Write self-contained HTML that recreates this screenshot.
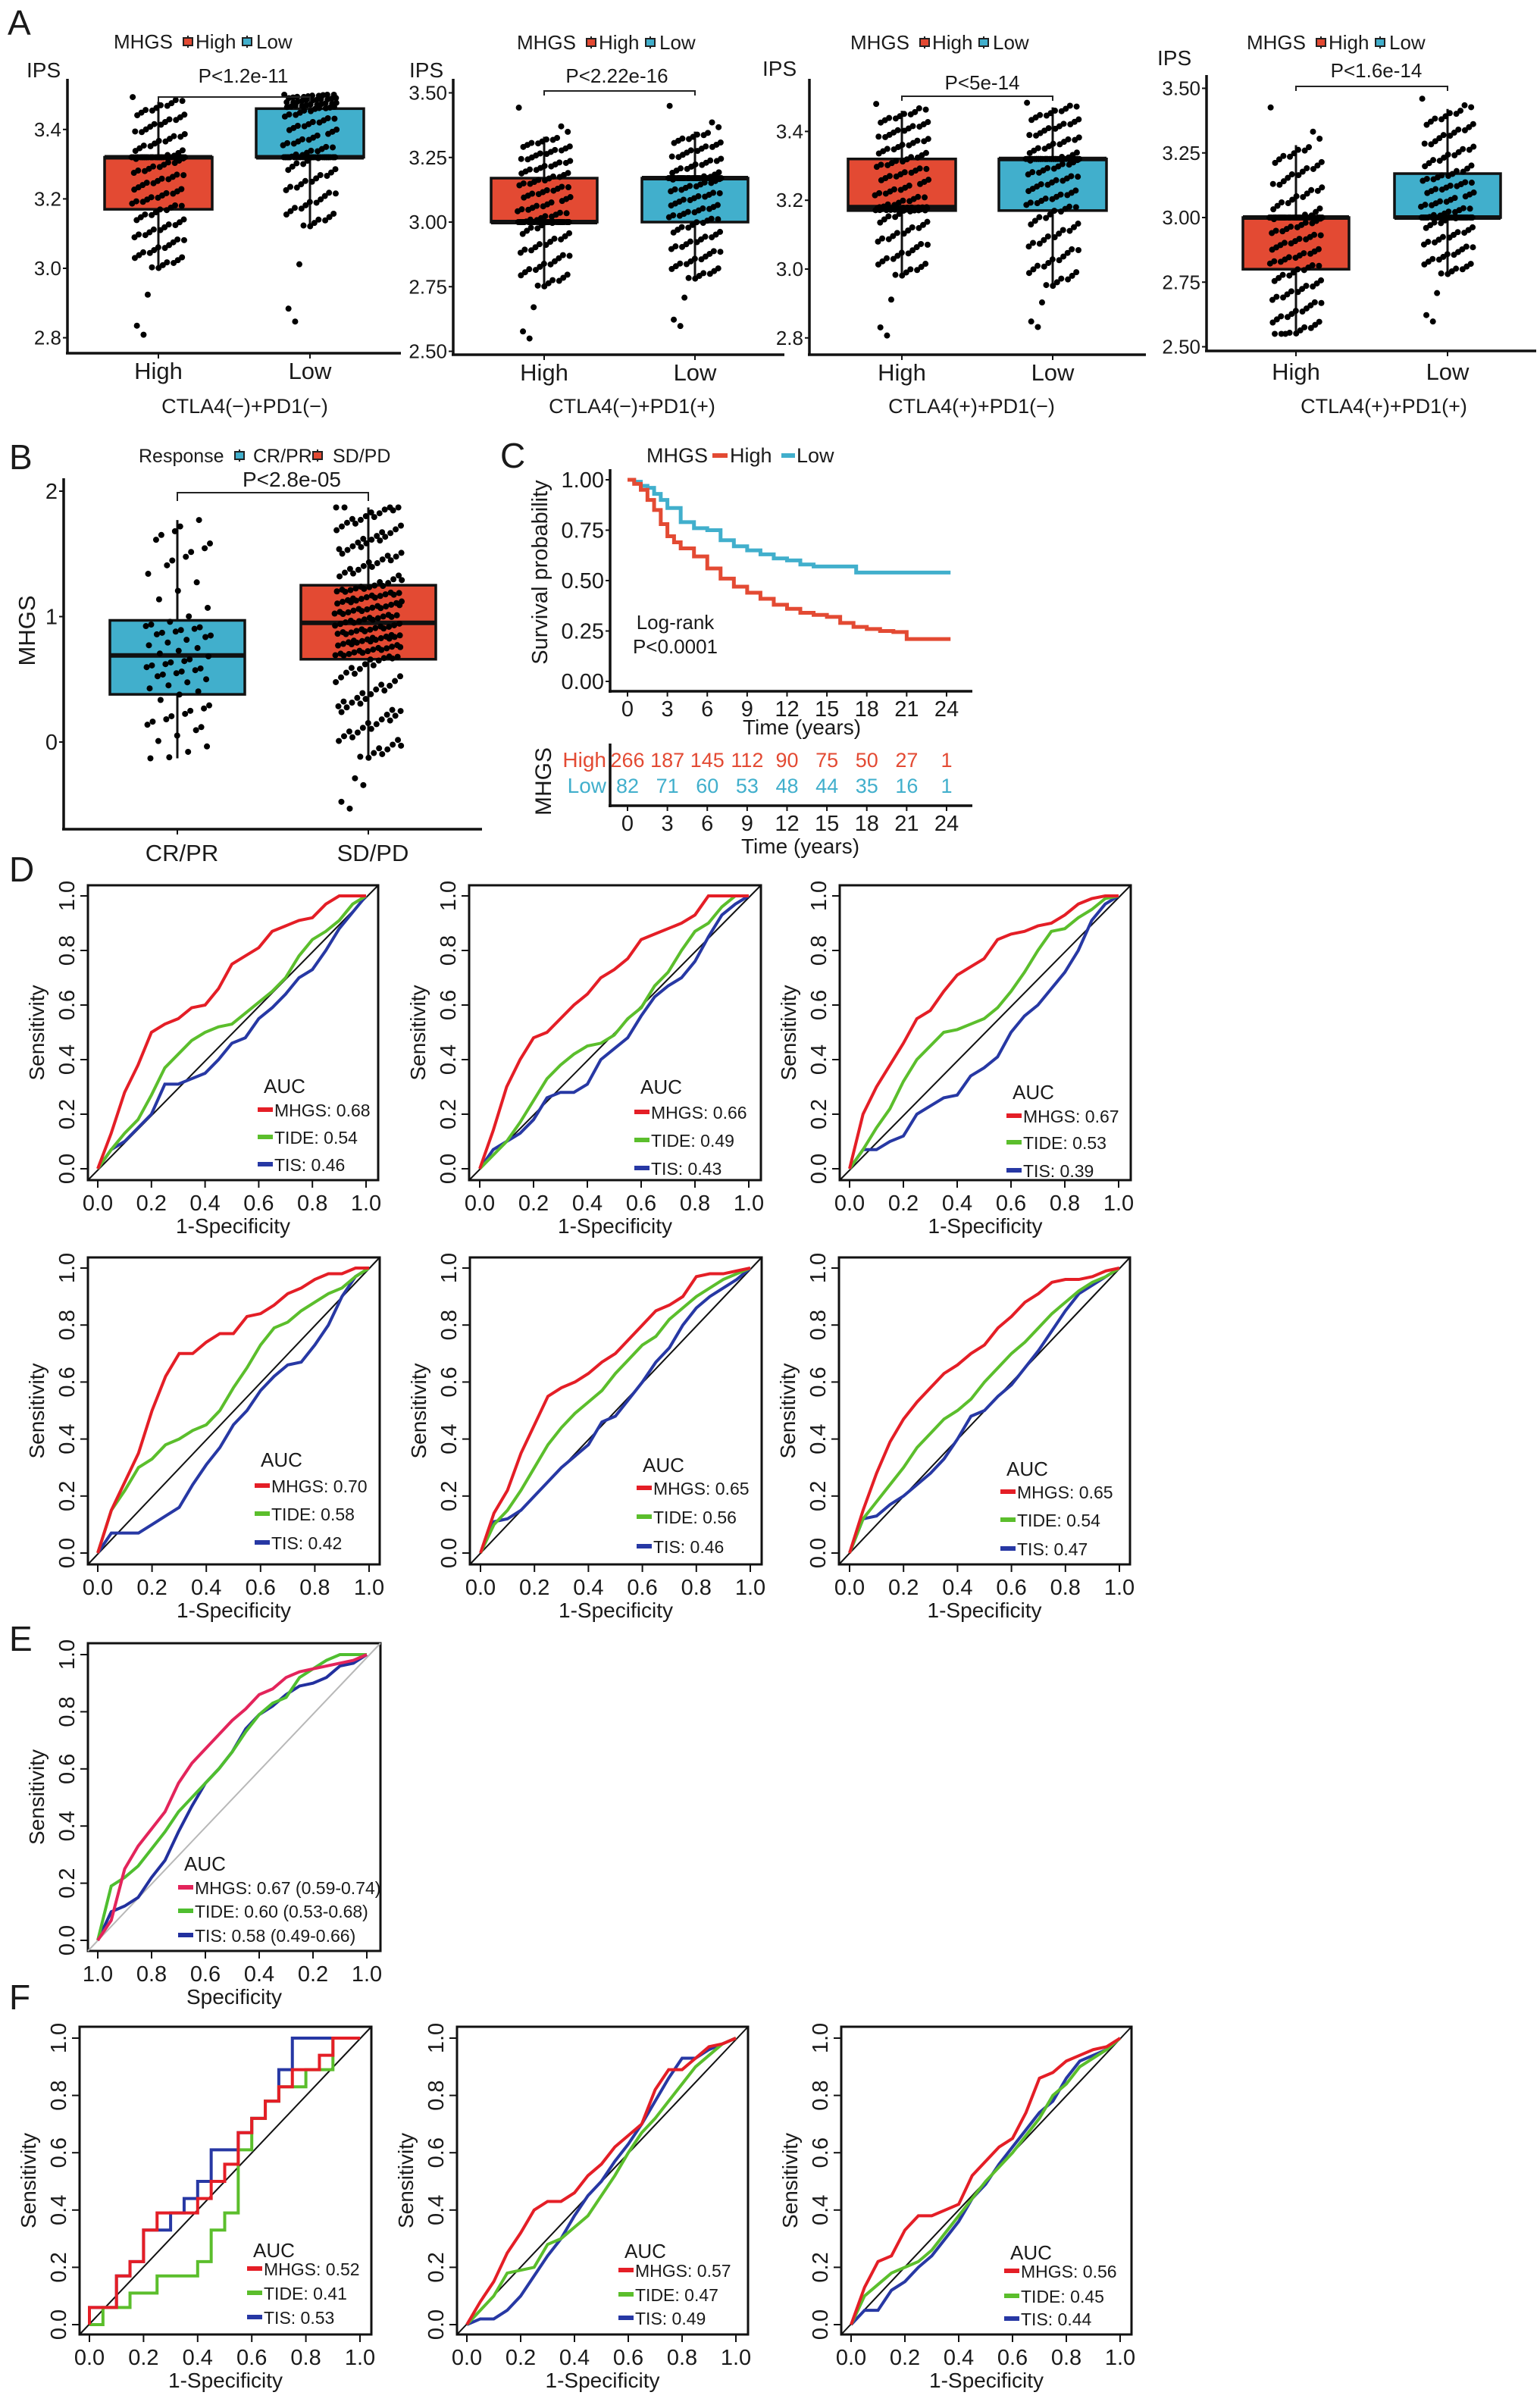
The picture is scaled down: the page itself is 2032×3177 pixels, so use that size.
<!DOCTYPE html>
<html><head><meta charset="utf-8"><title>MHGS figure</title>
<style>
html,body{margin:0;padding:0;background:#fff;}
svg{display:block;font-family:"Liberation Sans",Arial,sans-serif;}
</style></head>
<body>
<svg id="fig" xmlns="http://www.w3.org/2000/svg" width="2032" height="3177" viewBox="0 0 2032 3177">
<rect x="0" y="0" width="2032" height="3177" fill="#fff"/>
</svg>
<script>
// ===== Panel A data =====
const aGroups = ['High', 'Low'];
const aTitles = ['CTLA4(\u2212)+PD1(\u2212)', 'CTLA4(\u2212)+PD1(+)', 'CTLA4(+)+PD1(\u2212)', 'CTLA4(+)+PD1(+)'];
const aPvals = ['P<1.2e-11', 'P<2.22e-16', 'P<5e-14', 'P<1.6e-14'];
const aTicks = [[2.8, 3.0, 3.2, 3.4], [2.5, 2.75, 3.0, 3.25, 3.5], [2.8, 3.0, 3.2, 3.4], [2.5, 2.75, 3.0, 3.25, 3.5]];
const aTickLabels = [['2.8', '3.0', '3.2', '3.4'], ['2.50', '2.75', '3.00', '3.25', '3.50'], ['2.8', '3.0', '3.2', '3.4'], ['2.50', '2.75', '3.00', '3.25', '3.50']];
// [min, lower whisker, q1, median, q3, upper whisker, max]
const aHighStats = [[2.79, 3.0, 3.17, 3.32, 3.32, 3.48, 3.50], [2.53, 2.75, 3.00, 3.00, 3.17, 3.33, 3.50], [2.79, 2.98, 3.17, 3.18, 3.32, 3.46, 3.49], [2.55, 2.55, 2.80, 3.00, 3.00, 3.28, 3.50]];
const aLowStats = [[2.82, 3.12, 3.32, 3.32, 3.46, 3.50, 3.50], [2.58, 2.78, 3.00, 3.17, 3.17, 3.35, 3.50], [2.82, 2.95, 3.17, 3.32, 3.32, 3.47, 3.49], [2.58, 2.78, 3.00, 3.00, 3.17, 3.42, 3.48]];
const aCounts = [150, 150, 150, 150];

// ===== Panel B data =====
const bGroups = ['CR/PR', 'SD/PD'];
const bStats = [[-0.13, -0.13, 0.38, 0.69, 0.97, 1.77, 1.77], [-0.57, -0.13, 0.66, 0.95, 1.25, 1.87, 1.87]];
const bCounts = [70, 210];
const bTicks = [0, 1, 2];
const bPval = 'P<2.8e-05';

// ===== Panel C data =====
const kmHighT = [0, 0.5, 1, 1.5, 2, 2.5, 3, 3.5, 4, 5, 6, 7, 8, 9, 10, 11, 12, 13, 14, 15, 16, 17, 18, 19, 20, 21, 24.3];
const kmHighS = [1, 0.98, 0.95, 0.9, 0.85, 0.78, 0.72, 0.69, 0.66, 0.62, 0.56, 0.51, 0.47, 0.44, 0.41, 0.38, 0.36, 0.34, 0.33, 0.32, 0.29, 0.27, 0.26, 0.25, 0.245, 0.21, 0.21];
const kmLowT = [0, 0.5, 1, 1.5, 2, 2.5, 3, 4, 5, 6, 7, 8, 9, 10, 11, 12, 13, 14, 17.2, 24.3];
const kmLowS = [1, 0.99, 0.97, 0.96, 0.93, 0.9, 0.86, 0.79, 0.76, 0.75, 0.7, 0.67, 0.65, 0.63, 0.61, 0.6, 0.58, 0.57, 0.54, 0.54];
const kmTimeTicks = [0, 3, 6, 9, 12, 15, 18, 21, 24];
const kmYTicks = [0, 0.25, 0.5, 0.75, 1];
const kmYLabels = ['0.00', '0.25', '0.50', '0.75', '1.00'];
const riskHigh = [266, 187, 145, 112, 90, 75, 50, 27, 1];
const riskLow = [82, 71, 60, 53, 48, 44, 35, 16, 1];

// ===== ROC data (sensitivity at 1-specificity grid) =====
const rocFpr = [0, 0.05, 0.1, 0.15, 0.2, 0.25, 0.3, 0.35, 0.4, 0.45, 0.5, 0.55, 0.6, 0.65, 0.7, 0.75, 0.8, 0.85, 0.9, 0.95, 1];
const rocSeriesNames = ['MHGS', 'TIDE', 'TIS'];
const d1Mhgs = [0, 0.13, 0.28, 0.38, 0.50, 0.53, 0.55, 0.59, 0.60, 0.66, 0.75, 0.78, 0.81, 0.87, 0.89, 0.91, 0.92, 0.97, 1, 1, 1];
const d1Tide = [0, 0.07, 0.13, 0.18, 0.27, 0.37, 0.42, 0.47, 0.50, 0.52, 0.53, 0.57, 0.61, 0.65, 0.70, 0.78, 0.84, 0.87, 0.91, 0.97, 1];
const d1Tis = [0, 0.07, 0.10, 0.15, 0.20, 0.31, 0.31, 0.33, 0.35, 0.40, 0.46, 0.48, 0.55, 0.59, 0.64, 0.70, 0.73, 0.80, 0.88, 0.94, 1];
const d2Mhgs = [0, 0.14, 0.30, 0.40, 0.48, 0.50, 0.55, 0.60, 0.64, 0.70, 0.73, 0.77, 0.84, 0.86, 0.88, 0.90, 0.93, 1, 1, 1, 1];
const d2Tide = [0, 0.05, 0.10, 0.17, 0.25, 0.33, 0.38, 0.42, 0.45, 0.46, 0.49, 0.55, 0.59, 0.67, 0.72, 0.80, 0.87, 0.90, 0.96, 1, 1];
const d2Tis = [0, 0.07, 0.10, 0.13, 0.18, 0.26, 0.28, 0.28, 0.31, 0.40, 0.44, 0.48, 0.56, 0.63, 0.67, 0.70, 0.76, 0.85, 0.93, 0.97, 1];
const d3Mhgs = [0, 0.20, 0.30, 0.38, 0.46, 0.55, 0.58, 0.65, 0.71, 0.74, 0.77, 0.84, 0.86, 0.87, 0.89, 0.90, 0.93, 0.97, 0.99, 1, 1];
const d3Tide = [0, 0.07, 0.15, 0.22, 0.32, 0.40, 0.45, 0.50, 0.51, 0.53, 0.55, 0.59, 0.65, 0.72, 0.80, 0.87, 0.88, 0.92, 0.95, 0.99, 1];
const d3Tis = [0, 0.07, 0.07, 0.10, 0.12, 0.20, 0.23, 0.26, 0.27, 0.34, 0.37, 0.41, 0.50, 0.56, 0.60, 0.66, 0.72, 0.80, 0.91, 0.97, 1];
const d4Mhgs = [0, 0.15, 0.25, 0.35, 0.50, 0.62, 0.70, 0.70, 0.74, 0.77, 0.77, 0.83, 0.84, 0.87, 0.91, 0.93, 0.96, 0.98, 0.98, 1, 1];
const d4Tide = [0, 0.15, 0.22, 0.30, 0.33, 0.38, 0.40, 0.43, 0.45, 0.50, 0.58, 0.65, 0.73, 0.79, 0.81, 0.85, 0.88, 0.91, 0.93, 0.97, 1];
const d4Tis = [0, 0.07, 0.07, 0.07, 0.10, 0.13, 0.16, 0.24, 0.31, 0.37, 0.45, 0.50, 0.57, 0.62, 0.66, 0.67, 0.73, 0.80, 0.90, 0.97, 1];
const d5Mhgs = [0, 0.14, 0.22, 0.35, 0.45, 0.55, 0.58, 0.60, 0.63, 0.67, 0.70, 0.75, 0.80, 0.85, 0.87, 0.90, 0.97, 0.98, 0.98, 0.99, 1];
const d5Tide = [0, 0.10, 0.15, 0.22, 0.30, 0.38, 0.44, 0.49, 0.53, 0.57, 0.63, 0.68, 0.73, 0.76, 0.82, 0.86, 0.90, 0.93, 0.96, 0.98, 1];
const d5Tis = [0, 0.11, 0.12, 0.15, 0.20, 0.25, 0.30, 0.34, 0.38, 0.46, 0.48, 0.54, 0.60, 0.67, 0.72, 0.80, 0.86, 0.90, 0.93, 0.96, 1];
const d6Mhgs = [0, 0.15, 0.28, 0.39, 0.47, 0.53, 0.58, 0.63, 0.66, 0.70, 0.73, 0.79, 0.83, 0.88, 0.91, 0.95, 0.96, 0.96, 0.97, 0.99, 1];
const d6Tide = [0, 0.12, 0.18, 0.24, 0.30, 0.37, 0.42, 0.47, 0.50, 0.54, 0.60, 0.65, 0.70, 0.74, 0.79, 0.84, 0.88, 0.92, 0.95, 0.97, 1];
const d6Tis = [0, 0.12, 0.13, 0.17, 0.20, 0.24, 0.28, 0.33, 0.40, 0.48, 0.50, 0.55, 0.59, 0.65, 0.71, 0.78, 0.85, 0.91, 0.94, 0.97, 1];
const eMhgs = [0, 0.07, 0.25, 0.33, 0.39, 0.45, 0.55, 0.62, 0.67, 0.72, 0.77, 0.81, 0.86, 0.88, 0.92, 0.94, 0.95, 0.96, 0.97, 0.98, 1];
const eTide = [0, 0.19, 0.22, 0.26, 0.32, 0.38, 0.45, 0.50, 0.55, 0.60, 0.66, 0.73, 0.79, 0.83, 0.85, 0.92, 0.95, 0.98, 1, 1, 1];
const eTis = [0, 0.10, 0.12, 0.15, 0.22, 0.28, 0.38, 0.47, 0.55, 0.60, 0.66, 0.74, 0.79, 0.82, 0.86, 0.89, 0.90, 0.92, 0.96, 0.97, 1];
const f1Mhgs = [0, 0.06, 0.06, 0.17, 0.22, 0.33, 0.39, 0.39, 0.39, 0.44, 0.50, 0.56, 0.67, 0.72, 0.78, 0.83, 0.89, 0.89, 0.94, 1, 1];
const f1Tide = [0, 0.00, 0.06, 0.06, 0.11, 0.11, 0.17, 0.17, 0.17, 0.22, 0.33, 0.39, 0.61, 0.72, 0.78, 0.83, 0.83, 0.89, 0.89, 1, 1];
const f1Tis = [0, 0.06, 0.06, 0.17, 0.22, 0.33, 0.33, 0.39, 0.44, 0.50, 0.61, 0.61, 0.67, 0.72, 0.78, 0.89, 1, 1, 1, 1, 1];
const f2Mhgs = [0, 0.08, 0.15, 0.25, 0.32, 0.40, 0.43, 0.43, 0.46, 0.52, 0.56, 0.62, 0.66, 0.70, 0.82, 0.89, 0.89, 0.93, 0.97, 0.98, 1];
const f2Tide = [0, 0.05, 0.10, 0.18, 0.19, 0.20, 0.28, 0.30, 0.34, 0.38, 0.45, 0.52, 0.60, 0.67, 0.72, 0.78, 0.84, 0.90, 0.94, 0.98, 1];
const f2Tis = [0, 0.02, 0.02, 0.05, 0.10, 0.17, 0.24, 0.30, 0.38, 0.45, 0.50, 0.57, 0.63, 0.70, 0.78, 0.86, 0.93, 0.93, 0.96, 0.98, 1];
const f3Mhgs = [0, 0.13, 0.22, 0.24, 0.33, 0.38, 0.38, 0.40, 0.42, 0.52, 0.57, 0.62, 0.65, 0.74, 0.86, 0.88, 0.92, 0.94, 0.96, 0.97, 1];
const f3Tide = [0, 0.10, 0.14, 0.18, 0.20, 0.22, 0.26, 0.32, 0.38, 0.44, 0.50, 0.55, 0.60, 0.66, 0.72, 0.80, 0.84, 0.90, 0.93, 0.96, 1];
const f3Tis = [0, 0.05, 0.05, 0.12, 0.15, 0.20, 0.24, 0.30, 0.36, 0.44, 0.49, 0.56, 0.62, 0.68, 0.74, 0.78, 0.86, 0.92, 0.94, 0.96, 1];
const dAucs = [['0.68', '0.54', '0.46'], ['0.66', '0.49', '0.43'], ['0.67', '0.53', '0.39'], ['0.70', '0.58', '0.42'], ['0.65', '0.56', '0.46'], ['0.65', '0.54', '0.47']];
const eAucs = ['0.67 (0.59-0.74)', '0.60 (0.53-0.68)', '0.58 (0.49-0.66)'];
const fAucs = [['0.52', '0.41', '0.53'], ['0.57', '0.47', '0.49'], ['0.56', '0.45', '0.44']];
const rocTickVals = [0, 0.2, 0.4, 0.6, 0.8, 1];
const rocTickLabels = ['0.0', '0.2', '0.4', '0.6', '0.8', '1.0'];
const eXTickLabels = ['1.0', '0.8', '0.6', '0.4', '0.2', '1.0'];

// ===== drawing =====
const S = 'http://www.w3.org/2000/svg';
const svg = document.getElementById('fig');
const RED = '#E34A33', BLUE = '#41AFCC';

function mk(tag, attrs, name, parent, text) {
  const e = document.createElementNS(S, tag);
  for (const k in attrs) e.setAttribute(k, attrs[k]);
  
  
  if (text != null) e.textContent = text;
  (parent || svg).appendChild(e);
  return e;
}
function txt(x, y, s, size, name, parent, opts) {
  const o = Object.assign({x: x, y: y, 'font-size': size, fill: '#1a1a1a', 'text-anchor': 'start'}, opts || {});
  return mk('text', o, name, parent, s);
}
function rtxt(x, y, s, size, name, parent, opts) {
  const o = Object.assign({x: x, y: y, 'font-size': size, fill: '#1a1a1a', 'text-anchor': 'middle', transform: 'rotate(-90 ' + x + ' ' + y + ')'}, opts || {});
  return mk('text', o, name, parent, s);
}
function line(x1, y1, x2, y2, stroke, w, name, parent) {
  return mk('line', {x1: x1, y1: y1, x2: x2, y2: y2, stroke: stroke, 'stroke-width': w}, name, parent);
}
function quant(st, p) {
  const ps = [0, 0.02, 0.25, 0.5, 0.75, 0.98, 1];
  for (let i = 1; i < ps.length; i++) {
    if (p <= ps[i]) { const f = (p - ps[i - 1]) / (ps[i] - ps[i - 1]); return st[i - 1] + f * (st[i] - st[i - 1]); }
  }
  return st[6];
}
function boxplot(g, st, cx, bw, ymap, fill, n, name) {
  const grp = mk('g', {}, name, g);
  line(cx, ymap(st[4]), cx, ymap(st[5]), '#111', 3, name + '-upper-whisker', grp);
  line(cx, ymap(st[2]), cx, ymap(st[1]), '#111', 3, name + '-lower-whisker', grp);
  mk('rect', {x: cx - bw, y: ymap(st[4]), width: 2 * bw, height: ymap(st[2]) - ymap(st[4]), fill: fill, stroke: '#111', 'stroke-width': 3.5}, name + '-box', grp);
  line(cx - bw, ymap(st[3]), cx + bw, ymap(st[3]), '#111', 6, name + '-median', grp);
  const dots = mk('g', {fill: '#000'}, name + '-points', grp);
  for (let i = 0; i < n; i++) {
    const p = ((i + 0.5) * 0.7548776662) % 1;
    const u = ((i + 0.5) * 0.5698402910) % 1;
    const jit = (u - 0.5) * bw * 1.0;
    mk('circle', {cx: cx + jit, cy: ymap(quant(st, p)), r: 4}, name + '-point', dots);
  }
}
function legendKey(g, x, y, fill, name) {
  const k = mk('g', {}, name, g);
  line(x + 6, y - 8, x + 6, y + 8, '#222', 2, name + '-stem', k);
  mk('rect', {x: x, y: y - 5, width: 12, height: 10, fill: fill, stroke: '#222', 'stroke-width': 2}, name + '-box', k);
}

[['A', 10, 46], ['B', 12, 619], ['C', 660, 617], ['D', 12, 1163], ['E', 12, 2178], ['F', 12, 2651]].forEach(function (l) {
  txt(l[1], l[2], l[0], 46, 'panel-label-' + l[0].toLowerCase());
});

// ---- Panel A ----
const aGeom = [
  {ax: 89, top: 104, bot: 466, right: 529, y3: 354, k: 458, hx: 209, lx: 409, bw: 71, brY: 128, pX: 321, pY: 109, legX: 150, legY: 64, ipsX: 35, ipsY: 102, labY: 500, tX: 323},
  {ax: 598, top: 104, bot: 468, right: 1035, y3: 293, k: 341, hx: 718, lx: 917, bw: 70, brY: 120, pX: 814, pY: 109, legX: 682, legY: 65, ipsX: 540, ipsY: 102, labY: 502, tX: 834},
  {ax: 1068, top: 104, bot: 468, right: 1512, y3: 355, k: 454, hx: 1190, lx: 1389, bw: 71, brY: 127, pX: 1296, pY: 118, legX: 1122, legY: 65, ipsX: 1006, ipsY: 100, labY: 502, tX: 1282},
  {ax: 1592, top: 99, bot: 463, right: 2027, y3: 287, k: 341, hx: 1710, lx: 1910, bw: 70, brY: 114, pX: 1816, pY: 102, legX: 1645, legY: 65, ipsX: 1527, ipsY: 86, labY: 501, tX: 1826}
];
aGeom.forEach(function (G, i) {
  const g = mk('g', {}, 'panel-a-plot-' + (i + 1));
  const ym = function (v) { return G.y3 - (v - 3.0) * G.k; };
  line(G.ax, G.top, G.ax, G.bot, '#111', 3.5, 'y-axis-line', g);
  line(G.ax - 2, G.bot, G.right, G.bot, '#111', 3.5, 'x-axis-line', g);
  aTicks[i].forEach(function (t, j) {
    line(G.ax - 6, ym(t), G.ax, ym(t), '#111', 2, 'y-tick', g);
    txt(G.ax - 8, ym(t) + 9, aTickLabels[i][j], 26, 'y-tick-label', g, {'text-anchor': 'end'});
  });
  txt(G.ipsX, G.ipsY, 'IPS', 28, 'y-axis-title', g);
  boxplot(g, aHighStats[i], G.hx, G.bw, ym, RED, aCounts[i], 'box-high');
  boxplot(g, aLowStats[i], G.lx, G.bw, ym, BLUE, aCounts[i], 'box-low');
  [G.hx, G.lx].forEach(function (x, j) {
    line(x, G.bot, x, G.bot + 7, '#111', 2, 'x-tick', g);
    txt(x, G.labY, aGroups[j], 31, 'x-tick-label', g, {'text-anchor': 'middle'});
  });
  txt(G.tX, 545, aTitles[i], 27, 'x-axis-title', g, {'text-anchor': 'middle'});
  mk('path', {d: 'M' + G.hx + ' ' + (G.brY + 6) + 'V' + G.brY + 'H' + G.lx + 'V' + (G.brY + 6), fill: 'none', stroke: '#222', 'stroke-width': 2}, 'significance-bracket', g);
  txt(G.pX, G.pY, aPvals[i], 26, 'p-value-label', g, {'text-anchor': 'middle'});
  const lg = mk('g', {}, 'legend', g);
  txt(G.legX, G.legY, 'MHGS', 26, 'legend-title', lg);
  legendKey(lg, G.legX + 92, G.legY - 9, RED, 'legend-key-high');
  txt(G.legX + 108, G.legY, 'High', 26, 'legend-label-high', lg);
  legendKey(lg, G.legX + 170, G.legY - 9, BLUE, 'legend-key-low');
  txt(G.legX + 188, G.legY, 'Low', 26, 'legend-label-low', lg);
});

// ---- Panel B ----
(function () {
  const g = mk('g', {}, 'panel-b');
  const ym = function (v) { return 979 - v * 165.5; };
  line(84, 631, 84, 1094, '#111', 3.5, 'y-axis-line', g);
  line(82, 1094, 636, 1094, '#111', 3.5, 'x-axis-line', g);
  bTicks.forEach(function (t) {
    line(78, ym(t), 84, ym(t), '#111', 2, 'y-tick', g);
    txt(76, ym(t) + 10, String(t), 29, 'y-tick-label', g, {'text-anchor': 'end'});
  });
  rtxt(46, 832, 'MHGS', 31, 'y-axis-title', g);
  const cxs = [234, 486];
  const fills = [BLUE, RED];
  bGroups.forEach(function (name, i) {
    boxplot(g, bStats[i], cxs[i], 89, ym, fills[i], bCounts[i], 'box-' + name.toLowerCase().replace('/', '-'));
    line(cxs[i], 1094, cxs[i], 1101, '#111', 2, 'x-tick', g);
    txt(cxs[i] + 6, 1136, name, 31, 'x-tick-label', g, {'text-anchor': 'middle'});
  });
  mk('path', {d: 'M234 661V650H486V661', fill: 'none', stroke: '#222', 'stroke-width': 2}, 'significance-bracket', g);
  txt(385, 642, bPval, 28, 'p-value-label', g, {'text-anchor': 'middle'});
  const lg = mk('g', {}, 'legend', g);
  txt(183, 610, 'Response', 25, 'legend-title', lg);
  legendKey(lg, 310, 601, BLUE, 'legend-key-cr-pr');
  txt(334, 610, 'CR/PR', 25, 'legend-label-cr-pr', lg);
  legendKey(lg, 413, 601, RED, 'legend-key-sd-pd');
  txt(439, 610, 'SD/PD', 25, 'legend-label-sd-pd', lg);
})();

// ---- Panel C ----
(function () {
  const g = mk('g', {}, 'panel-c');
  const xm = function (t) { return 828 + t * 17.54; };
  const ym = function (s) { return 899 - s * 266; };
  line(805, 619, 805, 914, '#111', 3.5, 'y-axis-line', g);
  line(803, 912, 1283, 912, '#111', 3.5, 'x-axis-line', g);
  kmYTicks.forEach(function (t, j) {
    line(799, ym(t), 805, ym(t), '#111', 2, 'y-tick', g);
    txt(797, ym(t) + 10, kmYLabels[j], 29, 'y-tick-label', g, {'text-anchor': 'end'});
  });
  kmTimeTicks.forEach(function (t) {
    line(xm(t), 912, xm(t), 919, '#111', 2, 'x-tick', g);
    txt(xm(t), 945, String(t), 29, 'x-tick-label', g, {'text-anchor': 'middle'});
  });
  txt(1058, 969, 'Time (years)', 28, 'x-axis-title', g, {'text-anchor': 'middle'});
  rtxt(722, 755, 'Survival probability', 29, 'y-axis-title', g);
  function stepPath(T, Sv) {
    let d = 'M' + xm(T[0]) + ' ' + ym(Sv[0]);
    for (let i = 1; i < T.length; i++) d += 'H' + xm(T[i]) + 'V' + ym(Sv[i]);
    return d;
  }
  mk('path', {d: stepPath(kmLowT, kmLowS), fill: 'none', stroke: BLUE, 'stroke-width': 5}, 'km-curve-low', g);
  mk('path', {d: stepPath(kmHighT, kmHighS), fill: 'none', stroke: RED, 'stroke-width': 5}, 'km-curve-high', g);
  txt(891, 830, 'Log-rank', 26, 'log-rank-label', g, {'text-anchor': 'middle'});
  txt(891, 862, 'P<0.0001', 26, 'log-rank-p-value', g, {'text-anchor': 'middle'});
  const lg = mk('g', {}, 'legend', g);
  txt(853, 610, 'MHGS', 27, 'legend-title', lg);
  line(940, 601, 960, 601, RED, 6, 'legend-key-high', lg);
  txt(963, 610, 'High', 27, 'legend-label-high', lg);
  line(1031, 601, 1049, 601, BLUE, 6, 'legend-key-low', lg);
  txt(1051, 610, 'Low', 27, 'legend-label-low', lg);
  const rt = mk('g', {}, 'risk-table', g);
  line(805, 981, 805, 1065, '#111', 3.5, 'risk-table-y-axis', rt);
  line(803, 1063, 1283, 1063, '#111', 3.5, 'risk-table-x-axis', rt);
  txt(800, 1012, 'High', 28, 'risk-row-label-high', rt, {'text-anchor': 'end', fill: RED});
  txt(800, 1046, 'Low', 28, 'risk-row-label-low', rt, {'text-anchor': 'end', fill: BLUE});
  kmTimeTicks.forEach(function (t, j) {
    txt(xm(t), 1012, String(riskHigh[j]), 27, 'risk-count-high', rt, {'text-anchor': 'middle', fill: RED});
    txt(xm(t), 1046, String(riskLow[j]), 27, 'risk-count-low', rt, {'text-anchor': 'middle', fill: BLUE});
    line(xm(t), 1063, xm(t), 1070, '#111', 2, 'risk-x-tick', rt);
    txt(xm(t), 1096, String(t), 29, 'risk-x-tick-label', rt, {'text-anchor': 'middle'});
  });
  rtxt(727, 1031, 'MHGS', 30, 'risk-table-title', rt);
  txt(1056, 1126, 'Time (years)', 28, 'risk-x-axis-title', rt, {'text-anchor': 'middle'});
})();

// ---- ROC panels ----
function rocPlot(name, G, series, colors, legendTexts, xLabels, xTitle, stepped, diagColor) {
  const g = mk('g', {}, name);
  const xm = function (f) { return G.x0 + f * (G.x1 - G.x0); };
  const ym = function (s) { return G.y0 - s * (G.y0 - G.y1); };
  mk('rect', {x: G.L, y: G.T, width: G.R - G.L, height: G.B - G.T, fill: 'none', stroke: '#111', 'stroke-width': 3}, 'plot-frame', g);
  rocTickVals.forEach(function (v, j) {
    line(xm(v), G.B, xm(v), G.B + 10, '#111', 2, 'x-tick', g);
    txt(xm(v), G.B + 40, xLabels[j], 29, 'x-tick-label', g, {'text-anchor': 'middle'});
    line(G.L - 10, ym(v), G.L, ym(v), '#111', 2, 'y-tick', g);
    rtxt(G.L - 18, ym(v), rocTickLabels[j], 29, 'y-tick-label', g);
  });
  txt((G.L + G.R) / 2, G.B + 70, xTitle, 28, 'x-axis-title', g, {'text-anchor': 'middle'});
  rtxt(G.L - 58, (G.T + G.B) / 2, 'Sensitivity', 28, 'y-axis-title', g);
  line(G.L, G.B, G.R, G.T, diagColor, 2, 'reference-diagonal', g);
  for (let s = series.length - 1; s >= 0; s--) {
    const arr = series[s];
    let d = 'M' + xm(rocFpr[0]) + ' ' + ym(arr[0]);
    for (let i = 1; i < arr.length; i++) {
      d += stepped ? ('V' + ym(arr[i]) + 'H' + xm(rocFpr[i])) : ('L' + xm(rocFpr[i]) + ' ' + ym(arr[i]));
    }
    mk('path', {d: d, fill: 'none', stroke: colors[s], 'stroke-width': 4, 'stroke-linejoin': 'miter'}, 'roc-curve-' + rocSeriesNames[s].toLowerCase(), g);
  }
  const lg = mk('g', {}, 'legend', g);
  txt(G.ax, G.ay, 'AUC', 26, 'legend-title', lg);
  rocSeriesNames.forEach(function (n, s) {
    const ly = G.ly[s];
    line(G.ax - 8, ly, G.ax + 12, ly, colors[s], 6, 'legend-key-' + n.toLowerCase(), lg);
    txt(G.ax + 14, ly + 9, n + ': ' + legendTexts[s], 23, 'legend-entry-' + n.toLowerCase(), lg);
  });
}
const C3 = ['#E41E26', '#5BBE2C', '#2738A4'];
const r1 = {T: 1168, B: 1557, y1: 1182, y0: 1542};
const r2 = {T: 1659, B: 2064, y1: 1673, y0: 2049};
const dGeoms = [
  Object.assign({L: 116, R: 499, x0: 129, x1: 483, ax: 348, ay: 1442, ly: [1464, 1500, 1536]}, r1),
  Object.assign({L: 619, R: 1004, x0: 633, x1: 988, ax: 845, ay: 1443, ly: [1467, 1504, 1541]}, r1),
  Object.assign({L: 1108, R: 1492, x0: 1121, x1: 1476, ax: 1336, ay: 1450, ly: [1472, 1507, 1544]}, r1),
  Object.assign({L: 116, R: 501, x0: 129, x1: 487, ax: 344, ay: 1935, ly: [1960, 1997, 2035]}, r2),
  Object.assign({L: 620, R: 1005, x0: 634, x1: 990, ax: 848, ay: 1942, ly: [1963, 2001, 2040]}, r2),
  Object.assign({L: 1107, R: 1491, x0: 1121, x1: 1477, ax: 1328, ay: 1947, ly: [1968, 2005, 2043]}, r2)
];
const dSeries = [[d1Mhgs, d1Tide, d1Tis], [d2Mhgs, d2Tide, d2Tis], [d3Mhgs, d3Tide, d3Tis], [d4Mhgs, d4Tide, d4Tis], [d5Mhgs, d5Tide, d5Tis], [d6Mhgs, d6Tide, d6Tis]];
dGeoms.forEach(function (G, i) {
  rocPlot('panel-d-roc-' + (i + 1), G, dSeries[i], C3, dAucs[i], rocTickLabels, '1-Specificity', false, '#111');
});
rocPlot('panel-e-roc', {L: 116, R: 502, T: 2168, B: 2574, x0: 129, x1: 484, y1: 2183, y0: 2560, ax: 243, ay: 2468, ly: [2490, 2521, 2553]},
  [eMhgs, eTide, eTis], ['#E3245B', '#4FBE2F', '#22309E'], eAucs, eXTickLabels, 'Specificity', false, '#b8b8b8');
const fGeoms = [
  {L: 105, R: 490, T: 2674, B: 3080, x0: 118, x1: 475, y1: 2689, y0: 3067, ax: 334, ay: 2978, ly: [2993, 3025, 3057]},
  {L: 603, R: 987, T: 2674, B: 3080, x0: 616, x1: 971, y1: 2689, y0: 3067, ax: 824, ay: 2979, ly: [2995, 3027, 3058]},
  {L: 1110, R: 1493, T: 2674, B: 3080, x0: 1123, x1: 1478, y1: 2689, y0: 3067, ax: 1333, ay: 2981, ly: [2996, 3029, 3059]}
];
const fSeries = [[f1Mhgs, f1Tide, f1Tis], [f2Mhgs, f2Tide, f2Tis], [f3Mhgs, f3Tide, f3Tis]];
fGeoms.forEach(function (G, i) {
  rocPlot('panel-f-roc-' + (i + 1), G, fSeries[i], C3, fAucs[i], rocTickLabels, '1-Specificity', i === 0, '#111');
});
</script>
</body></html>
